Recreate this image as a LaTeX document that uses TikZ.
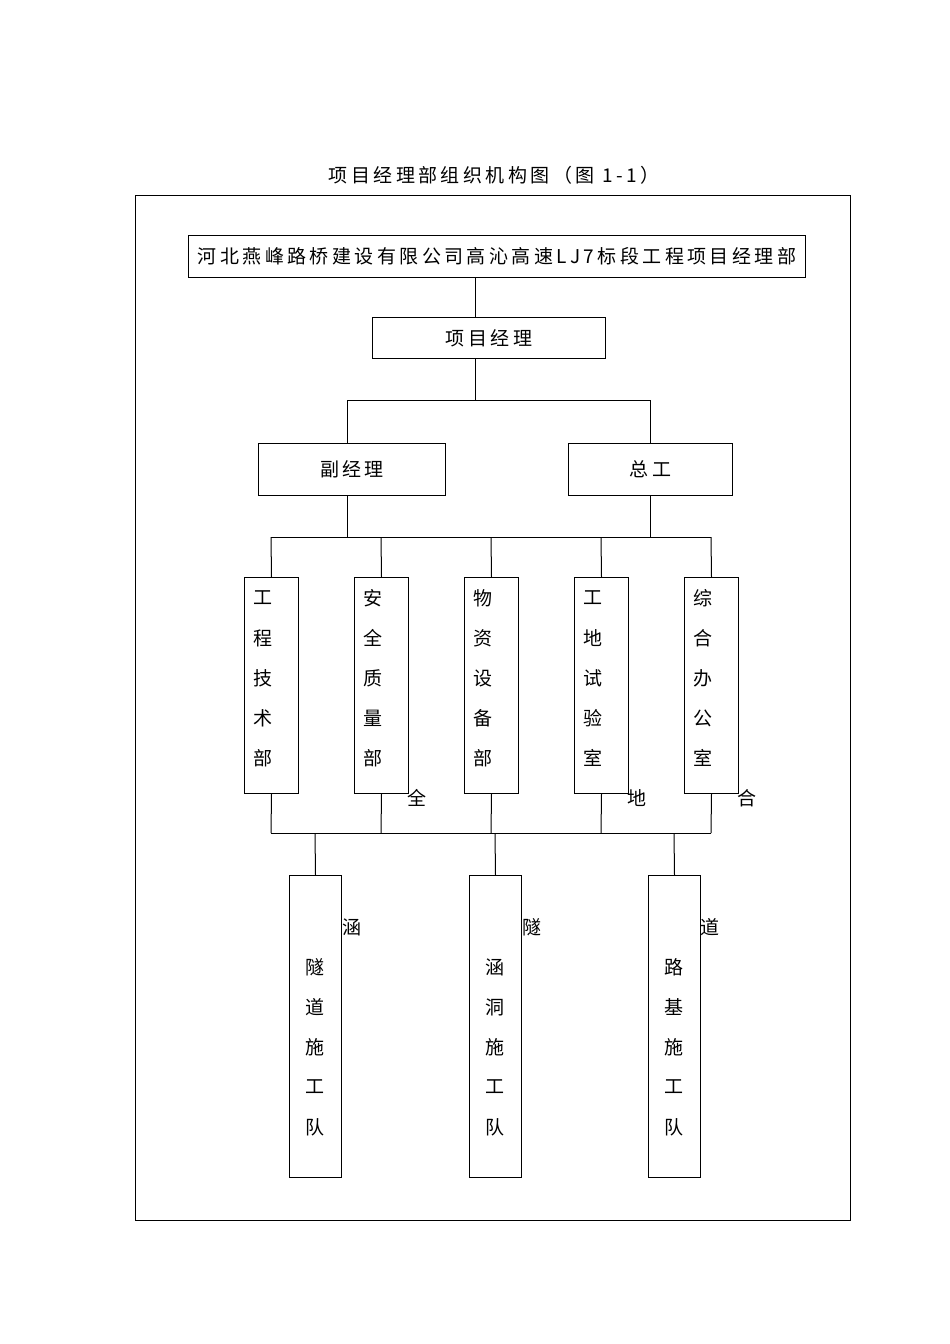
\documentclass[tikz,border=0pt]{standalone}
\usepackage{fontspec}
\setmainfont{Noto Sans CJK SC}
\newfontfamily\spaced[LetterSpace=18]{Noto Sans CJK SC}
\begin{document}
\begin{tikzpicture}[x=1pt,y=-1pt,
  bx/.style={draw,line width=1pt,inner sep=0pt,anchor=north west},
  ln/.style={line width=1pt},
  tx/.style={font=\fontsize{19}{19}\selectfont,inner sep=0pt},
  stx/.style={font=\spaced\fontsize{19}{19}\selectfont,inner sep=0pt}]
\useasboundingbox (0,0) rectangle (950,1344);
\node[stx] (title) at (494,175) {项目经理部组织机构图（图 1-1）};
\draw[line width=1pt] (135,195) rectangle (850,1220);
\node[bx,minimum width=617pt,minimum height=42pt] (top) at (188,235) {};
\node[stx] at (top.center) {河北燕峰路桥建设有限公司高沁高速LJ7标段工程项目经理部};
\node[bx,minimum width=233pt,minimum height=41pt] (pm) at (372,317) {};
\node[stx] at (pm.center) {项目经理};
\node[bx,minimum width=187pt,minimum height=52pt] (fj) at (258,443) {};
\node[stx] at (fj.center) {副经理};
\node[bx,minimum width=164pt,minimum height=52pt] (zg) at (568,443) {};
\node[stx] at (zg.center) {总工};
\draw[ln] (475,277) -- (475,317);
\draw[ln] (475,358) -- (475,400);
\draw[ln] (347,443) -- (347,400) -- (650,400) -- (650,443);
\draw[ln] (347,495) -- (347,537);
\draw[ln] (650,495) -- (650,537);
\draw[ln] (271,537) -- (711,537);
\foreach \i/\c/\t in {a/271/{工,程,技,术,部},b/381/{安,全,质,量,部},c/491/{物,资,设,备,部},d/601/{工,地,试,验,室},e/711/{综,合,办,公,室}}{
  \node[bx,minimum width=54pt,minimum height=216pt] (d\i) at (\c-27,577) {};
  \draw[ln] (\c,537) -- (d\i.north);
  \draw[ln] (d\i.south) -- (\c,833);
  \foreach \ch [count=\k] in \t { \node[tx] at (\c-8,558+40*\k) {\ch}; }
}
\draw[ln] (271,833) -- (711,833);
\foreach \i/\c/\t in {a/315/{隧,道,施,工,队},b/495/{涵,洞,施,工,队},c/674/{路,基,施,工,队}}{
  \node[bx,minimum width=52pt,minimum height=302pt] (t\i) at (\c-26,875) {};
  \draw[ln] (\c,833) -- (t\i.north);
  \foreach \ch [count=\k] in \t { \node[tx] at (\c,927+40*\k) {\ch}; }
}
\node[tx] (s1) at (417,798) {全};
\node[tx] (s2) at (637,798) {地};
\node[tx] (s3) at (747,798) {合};
\node[tx] (s4) at (352,927) {涵};
\node[tx] (s5) at (532,927) {隧};
\node[tx] (s6) at (710,927) {道};
\end{tikzpicture}
\end{document}
